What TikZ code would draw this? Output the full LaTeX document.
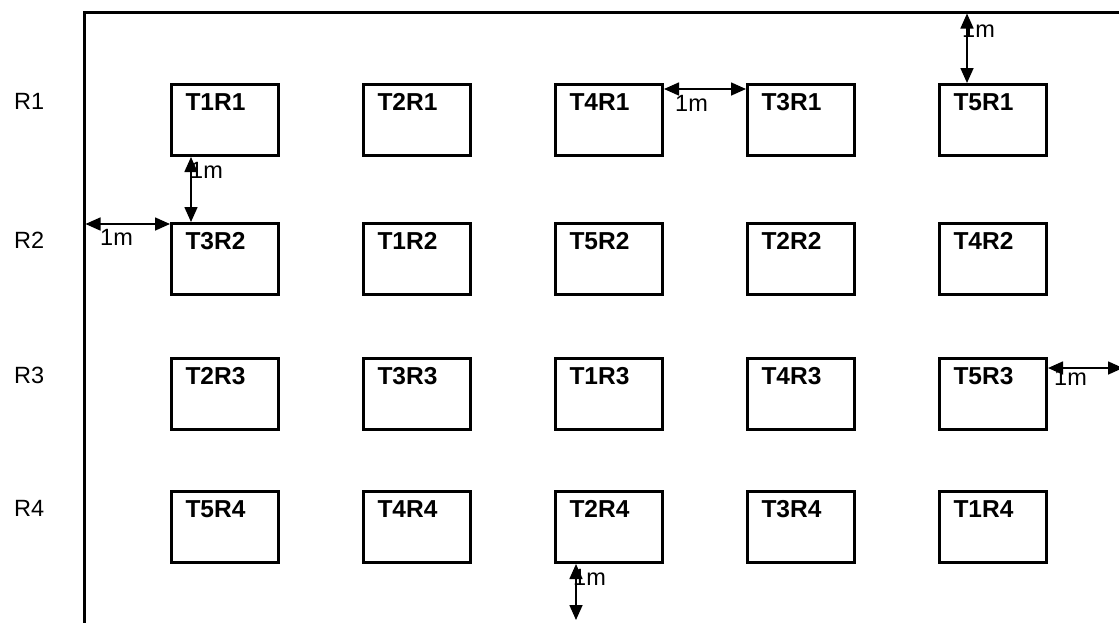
\documentclass[tikz,border=0pt]{standalone}
\usepackage{fontspec}
\setmainfont{Liberation Sans}
\usetikzlibrary{arrows.meta,calc}
\begin{document}
\begin{tikzpicture}[x=1pt,y=-1pt,
  plotbox/.style={draw, line width=3pt, rectangle, anchor=north west,
    minimum width=107pt, minimum height=71pt, inner xsep=14pt, inner ysep=0pt,
    text width=79pt, align=left, text height=26pt, text depth=45pt,
    font=\fontsize{24.5}{27}\selectfont\bfseries},
  rowlbl/.style={anchor=base west, inner sep=0pt, font=\fontsize{23.5}{26}\selectfont},
  dist/.style={anchor=base west, inner sep=0pt, font=\fontsize{23.5}{26}\selectfont},
  dim/.style={line width=1.6pt, {Triangle[length=15pt,width=13pt]}-{Triangle[length=15pt,width=13pt]}},
  wall/.style={line width=3pt}]
\useasboundingbox (0,0) rectangle (1119,622);
% field boundary
\draw[wall] (84,630) -- (84,12) -- (1130,12);
\coordinate (lw) at (85.5,224);
\coordinate (tw) at (967,13.5);
\coordinate (re) at (1123,368);
\coordinate (be) at (577,620);
% row labels
\node[rowlbl] (r1) at (14,109) {R1};
\node[rowlbl] (r2) at (14,248) {R2};
\node[rowlbl] (r3) at (14,383) {R3};
\node[rowlbl] (r4) at (14,516) {R4};
% plots
\foreach \r/\y/\names in {1/83/{T1R1,T2R1,T4R1,T3R1,T5R1},
                          2/222/{T3R2,T1R2,T5R2,T2R2,T4R2},
                          3/357/{T2R3,T3R3,T1R3,T4R3,T5R3},
                          4/490/{T5R4,T4R4,T2R4,T3R4,T1R4}}{
  \foreach \n [count=\c] in \names {
    \pgfmathsetmacro{\xx}{170+(\c-1)*192}
    \node[plotbox] (b\r\c) at (\xx,\y) {\n};
  }
}
% distance labels
\node[dist] (d1) at (190,178) {1m};
\node[dist] (d2) at (100,245) {1m};
\node[dist] (d3) at (675,111) {1m};
\node[dist] (d4) at (962,37) {1m};
\node[dist] (d5) at (1054,385) {1m};
\node[dist] (d6) at (573,585) {1m};
% distance arrows
\draw[dim] ($(b11.south west)+(21,0)$) -- ($(b21.north west)+(21,0)$);
\draw[dim] (lw) -- (b21.west |- lw);
\draw[dim] ($(b13.north east)+(0,6)$) -- ($(b14.north west)+(0,6)$);
\draw[dim] (tw) -- (tw |- b15.north);
\draw[dim] ($(b35.north east)+(0,11)$) -- (re);
\coordinate (bs) at ($(b43.south west)+(22,0)$);
\draw[dim] (bs) -- (bs |- be);
\end{tikzpicture}
\end{document}
